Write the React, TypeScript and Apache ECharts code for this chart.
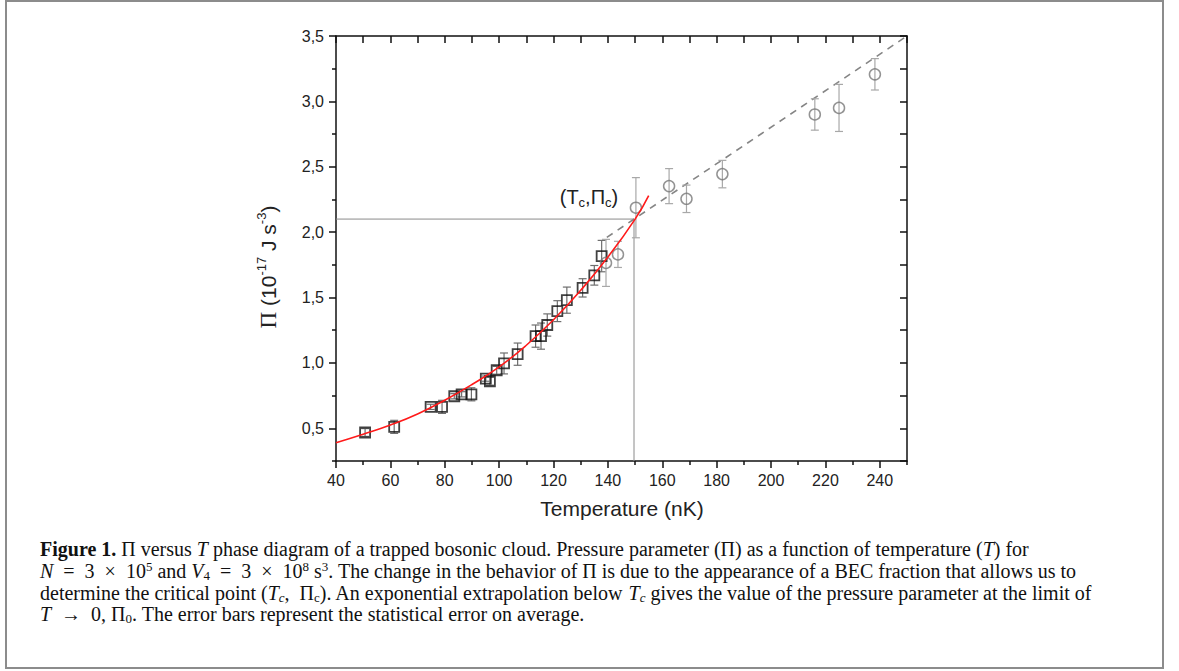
import React, { useEffect, useRef } from 'react';
import * as echarts from 'echarts';

// ---- data ----
const fitT = [40, 50, 60, 70, 80, 90, 100, 110, 120, 130, 140, 150, 155];
const fitPi = [0.39, 0.455, 0.525, 0.61, 0.715, 0.835, 0.97, 1.135, 1.33, 1.555, 1.81, 2.1, 2.28];

const belowT = [50.7, 61.4, 74.8, 79.0, 83.5, 86.2, 89.8, 95.1, 96.6, 99.1, 101.8, 106.8, 113.4, 115.4, 117.7, 121.4, 124.9, 130.7, 135.0, 137.7];
const belowPi = [0.468, 0.511, 0.664, 0.664, 0.745, 0.76, 0.76, 0.88, 0.86, 0.944, 0.996, 1.067, 1.205, 1.205, 1.29, 1.396, 1.48, 1.574, 1.67, 1.817];
const belowErr = [0.03, 0.05, 0.02, 0.05, 0.02, 0.02, 0.05, 0.02, 0.03, 0.03, 0.08, 0.085, 0.085, 0.1, 0.085, 0.08, 0.1, 0.07, 0.075, 0.12];

const aboveT = [139.3, 143.7, 150.3, 162.5, 168.9, 182.1, 216.1, 225.0, 238.2];
const abovePi = [1.765, 1.83, 2.187, 2.352, 2.255, 2.444, 2.9, 2.95, 3.207];
const aboveErr = [0.18, 0.1, 0.23, 0.134, 0.105, 0.105, 0.12, 0.18, 0.12];

const extrapT = [139.6, 250];
const extrapPi = [1.96, 3.5];

const critT = 149.6;
const critPi = 2.1;

const xMin = 40;
const xMax = 250;
const yMin = 0.25;
const yMax = 3.5;
const xMajorTicks = [40, 60, 80, 100, 120, 140, 160, 180, 200, 220, 240];
const xMinorTicks = [50, 70, 90, 110, 130, 150, 170, 190, 210, 230, 250];
const xAllTicks = [40, 50, 60, 70, 80, 90, 100, 110, 120, 130, 140, 150, 160, 170, 180, 190, 200, 210, 220, 230, 240, 250];
const yMajorTicks = [0.5, 1.0, 1.5, 2.0, 2.5, 3.0, 3.5];
const yMinorTicks = [0.25, 0.75, 1.25, 1.75, 2.25, 2.75, 3.25];
const yAllTicks = [0.25, 0.5, 0.75, 1.0, 1.25, 1.5, 1.75, 2.0, 2.25, 2.5, 2.75, 3.0, 3.25, 3.5];

const captionLines = [
  '{b|Figure 1.} Π versus {i|T} phase diagram of a trapped bosonic cloud. Pressure parameter (Π) as a function of temperature ({i|T}) for',
  '{i|N}\u2002=\u20023\u2002×\u200210{sup|5} and {i|V}{sub|4}\u2002=\u20023\u2002×\u200210{sup|8} s{sup|3}. The change in the behavior of Π is due to the appearance of a BEC fraction that allows us to',
  'determine the critical point ({i|T}{isub|c},\u2002Π{sub|c}). An exponential extrapolation below {i|T}{isub|c} gives the value of the pressure parameter at the limit of',
  '{i|T}\u2002→\u20020, Π{sub|0}. The error bars represent the statistical error on average.',
];

const SANS = '"Liberation Sans", Arial, sans-serif';
const SERIF = '"Liberation Serif", "Times New Roman", serif';

function errorBarRenderer(color: string) {
  return (params: any, api: any) => {
    const x = api.value(0);
    const y = api.value(1);
    const e = api.value(2);
    const top = api.coord([x, y + e]);
    const bot = api.coord([x, y - e]);
    const w = 4;
    const style = { stroke: color, lineWidth: 1.2 };
    return {
      type: 'group',
      children: [
        { type: 'line', shape: { x1: top[0], y1: top[1], x2: bot[0], y2: bot[1] }, style },
        { type: 'line', shape: { x1: top[0] - w, y1: top[1], x2: top[0] + w, y2: top[1] }, style },
        { type: 'line', shape: { x1: bot[0] - w, y1: bot[1], x2: bot[0] + w, y2: bot[1] }, style },
      ],
    };
  };
}

const fmtY = (v: number) => v.toFixed(1).replace('.', ',');

export default function App() {
  const ref = useRef<HTMLDivElement>(null);

  useEffect(() => {
    if (!ref.current) return;
    const chart = echarts.init(ref.current, undefined, { renderer: 'svg' });

    const lineBlack = { show: true, onZero: false, lineStyle: { color: '#111', width: 1.5 } };
    const baseX = { type: 'value', min: xMin, max: xMax, splitLine: { show: false } };
    const baseY = { type: 'value', min: yMin, max: yMax, splitLine: { show: false } };

    const CF = 20;
    const captionRich = {
      b: { fontFamily: SERIF, fontSize: CF, fontWeight: 'bold', color: '#111', lineHeight: 22 },
      i: { fontFamily: SERIF, fontSize: CF, fontStyle: 'italic', color: '#111', lineHeight: 22 },
      sup: { fontFamily: SERIF, fontSize: 13, color: '#111', lineHeight: 14, verticalAlign: 'top' },
      sub: { fontFamily: SERIF, fontSize: 13, color: '#111', lineHeight: 14, verticalAlign: 'bottom' },
      isub: { fontFamily: SERIF, fontSize: 13, fontStyle: 'italic', color: '#111', lineHeight: 14, verticalAlign: 'bottom' },
    };

    const captionY = [549, 571, 593, 614];

    const option: any = {
      animation: false,
      backgroundColor: '#fff',
      grid: { left: 336, top: 36, width: 571, height: 425, containLabel: false },
      xAxis: [
        {
          ...baseX,
          position: 'bottom',
          axisLine: lineBlack,
          axisTick: { show: true, inside: false, length: 7, customValues: xMajorTicks, lineStyle: { color: '#111', width: 1.5 } },
          axisLabel: { customValues: xMajorTicks, margin: 11, fontFamily: SANS, fontSize: 16, color: '#222' },
        },
        {
          ...baseX,
          position: 'bottom',
          axisLine: { show: false, onZero: false },
          axisTick: { show: true, inside: false, length: 4, customValues: xMinorTicks, lineStyle: { color: '#111', width: 1.5 } },
          axisLabel: { show: false },
        },
        {
          ...baseX,
          position: 'top',
          axisLine: lineBlack,
          axisTick: { show: true, inside: true, length: 7, customValues: xAllTicks, lineStyle: { color: '#111', width: 1.5 } },
          axisLabel: { show: false },
        },
      ],
      yAxis: [
        {
          ...baseY,
          position: 'left',
          axisLine: lineBlack,
          axisTick: { show: true, inside: false, length: 7, customValues: yMajorTicks, lineStyle: { color: '#111', width: 1.5 } },
          axisLabel: { customValues: yMajorTicks, margin: 12, fontFamily: SANS, fontSize: 16, color: '#222', formatter: fmtY },
        },
        {
          ...baseY,
          position: 'left',
          axisLine: { show: false, onZero: false },
          axisTick: { show: true, inside: false, length: 4, customValues: yMinorTicks, lineStyle: { color: '#111', width: 1.5 } },
          axisLabel: { show: false },
        },
        {
          ...baseY,
          position: 'right',
          axisLine: lineBlack,
          axisTick: { show: true, inside: true, length: 7, customValues: yAllTicks, lineStyle: { color: '#111', width: 1.5 } },
          axisLabel: { show: false },
        },
      ],
      series: [
        {
          type: 'line',
          name: 'critical',
          data: [[xMin, critPi], [critT, critPi], [critT, yMin]],
          symbol: 'none',
          lineStyle: { color: '#8a8a8a', width: 1 },
          z: 1,
        },
        {
          type: 'line',
          name: 'extrapolation',
          data: extrapT.map((t, i) => [t, extrapPi[i]]),
          symbol: 'none',
          lineStyle: { color: '#858585', width: 1.6, type: [7, 6] },
          z: 2,
        },
        {
          type: 'custom',
          name: 'err-below',
          renderItem: errorBarRenderer('#6e6e6e'),
          data: belowT.map((t, i) => [t, belowPi[i], belowErr[i]]),
          encode: { x: 0, y: 1 },
          z: 3,
        },
        {
          type: 'custom',
          name: 'err-above',
          renderItem: errorBarRenderer('#a8a8a8'),
          data: aboveT.map((t, i) => [t, abovePi[i], aboveErr[i]]),
          encode: { x: 0, y: 1 },
          z: 3,
        },
        {
          type: 'scatter',
          name: 'below',
          data: belowT.map((t, i) => [t, belowPi[i]]),
          symbol: 'rect',
          symbolSize: 10,
          itemStyle: { color: 'rgba(255,255,255,0)', borderColor: '#111', borderWidth: 1.8 },
          z: 4,
        },
        {
          type: 'scatter',
          name: 'above',
          data: aboveT.map((t, i) => [t, abovePi[i]]),
          symbol: 'circle',
          symbolSize: 11,
          itemStyle: { color: 'rgba(255,255,255,0)', borderColor: '#787878', borderWidth: 1.5 },
          z: 4,
        },
        {
          type: 'line',
          name: 'fit',
          data: fitT.map((t, i) => [t, fitPi[i]]),
          symbol: 'none',
          smooth: true,
          lineStyle: { color: '#ff1a1a', width: 1.6 },
          z: 5,
        },
      ],
      graphic: [
        {
          type: 'rect',
          shape: { x: 6, y: 1, width: 1157, height: 667 },
          style: { fill: 'none', stroke: '#8c8c8c', lineWidth: 2 },
          z: -10,
        },
        {
          type: 'text',
          x: 268,
          y: 267,
          rotation: Math.PI / 2,
          style: {
            text: '{pi|Π} (10{sup|-17} J s{sup|-3})',
            fontFamily: SANS,
            fontSize: 21,
            fill: '#222',
            align: 'center',
            verticalAlign: 'middle',
            lineHeight: 26,
            rich: {
              pi: { fontFamily: SERIF, fontSize: 23, fill: '#222', lineHeight: 26 },
              sup: { fontFamily: SANS, fontSize: 13, fill: '#222', lineHeight: 15, verticalAlign: 'top' },
            },
          },
        },
        {
          type: 'text',
          x: 622,
          y: 508,
          style: {
            text: 'Temperature (nK)',
            fontFamily: SANS,
            fontSize: 21,
            fill: '#222',
            align: 'center',
            verticalAlign: 'middle',
          },
        },
        {
          type: 'text',
          x: 589,
          y: 197,
          style: {
            text: '(T{sub|c},Π{sub|c})',
            fontFamily: SANS,
            fontSize: 20,
            fill: '#222',
            align: 'center',
            verticalAlign: 'middle',
            lineHeight: 24,
            rich: {
              sub: { fontFamily: SANS, fontSize: 13, fill: '#222', lineHeight: 15, verticalAlign: 'bottom' },
            },
          },
        },
        ...captionLines.map((line, i) => ({
          type: 'text',
          x: 40,
          y: captionY[i],
          style: {
            text: line,
            fontFamily: SERIF,
            fontSize: CF,
            fill: '#111',
            align: 'left',
            verticalAlign: 'middle',
            lineHeight: 22,
            rich: captionRich,
          },
        })),
      ],
    };

    chart.setOption(option);
    return () => chart.dispose();
  }, []);

  return (
    <div
      ref={ref}
      style={{ position: 'fixed', left: 0, top: 0, width: 1179, height: 671, background: '#fff' }}
    />
  );
}
